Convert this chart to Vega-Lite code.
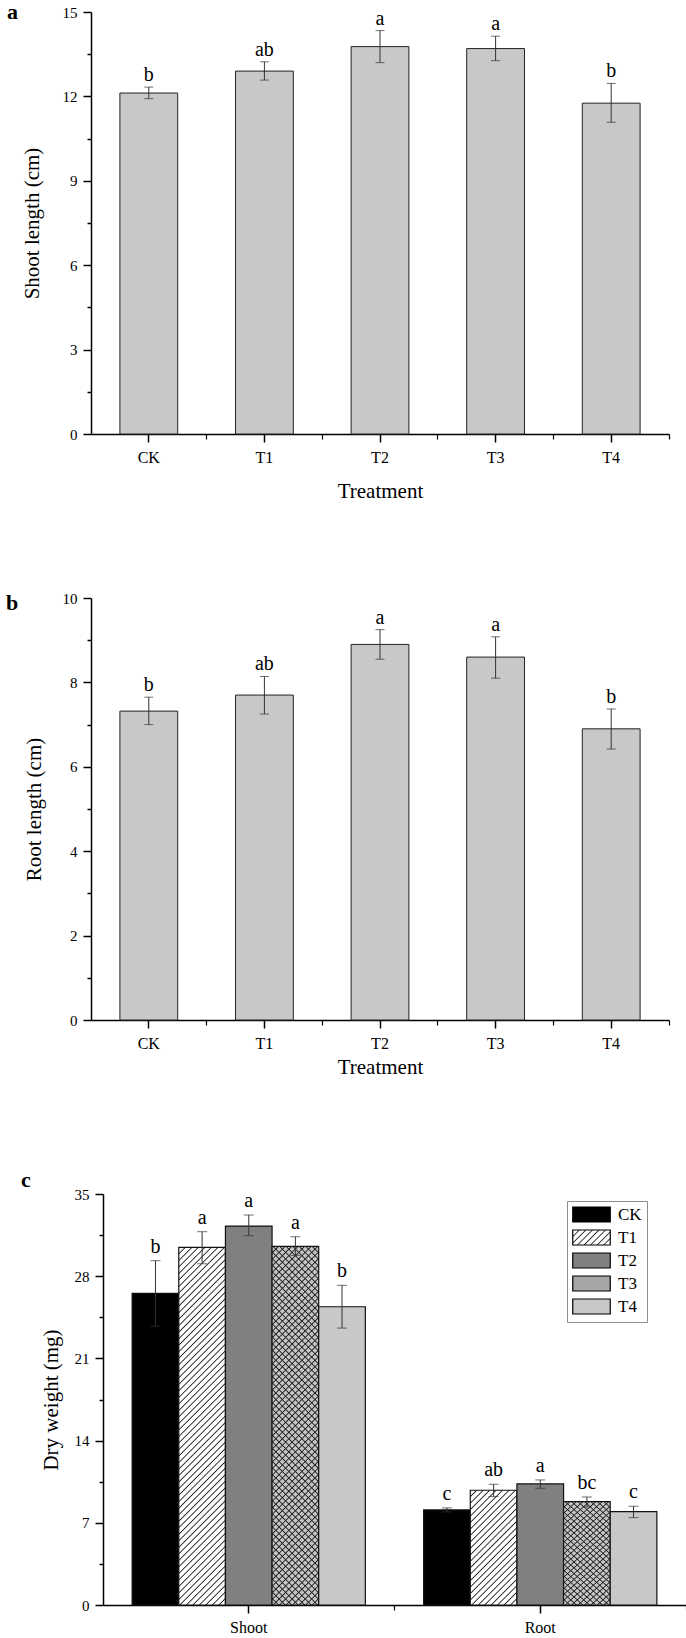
{
  "$schema": "https://vega.github.io/schema/vega-lite/v6.json",
  "background": "white",
  "padding": {"top": 1, "left": 6, "right": 2, "bottom": 4},
  "spacing": 90,
  "align": "none",
  "bounds": "full",
  "resolve": {"legend": {"fill": "independent"}},
  "config": {
    "font": "Liberation Serif",
    "view": {"stroke": null},
    "axis": {
      "grid": false,
      "domainColor": "#000000",
      "domainWidth": 1.5,
      "tickColor": "#000000",
      "tickWidth": 1.5,
      "labelFont": "Liberation Serif",
      "labelColor": "#000000",
      "titleFont": "Liberation Serif",
      "titleFontWeight": "normal",
      "titleColor": "#000000"
    },
    "legend": {"labelFont": "Liberation Serif"},
    "title": {
      "font": "Liberation Serif",
      "fontSize": 22,
      "fontWeight": "bold",
      "anchor": "start",
      "frame": "bounds",
      "baseline": "alphabetic",
      "color": "#000000"
    }
  },
  "vconcat": [
    {
      "width": 578,
      "height": 422,
      "title": {"text": "a", "dx": -14, "offset": -19},
      "data": {"values": [
        {"Treatment": "CK", "value": 12.12, "lo": 11.92, "hi": 12.33, "letter": "b"},
        {"Treatment": "T1", "value": 12.90, "lo": 12.58, "hi": 13.23, "letter": "ab"},
        {"Treatment": "T2", "value": 13.77, "lo": 13.20, "hi": 14.34, "letter": "a"},
        {"Treatment": "T3", "value": 13.70, "lo": 13.27, "hi": 14.14, "letter": "a"},
        {"Treatment": "T4", "value": 11.76, "lo": 11.08, "hi": 12.46, "letter": "b"}
      ]},
      "resolve": {"axis": {"x": "independent"}},
      "layer": [
        {
          "mark": {"type": "bar", "fill": "#c8c8c8", "stroke": "#222222", "strokeWidth": 1},
          "encoding": {
            "x": {"field": "Treatment", "type": "nominal", "sort": null,
              "scale": {"type": "band", "domain": ["CK", "T1", "T2", "T3", "T4"], "paddingInner": 0.5, "paddingOuter": 0.25},
              "axis": {"title": "Treatment", "labelAngle": 0, "bandPosition": 0.5, "tickSize": 8, "labelPadding": 7, "titlePadding": 15, "labelFontSize": 16, "titleFontSize": 21}},
            "y": {"field": "value", "type": "quantitative",
              "scale": {"domain": [0, 15], "nice": false},
              "axis": {"title": "Shoot length (cm)", "values": [0, 1.5, 3, 4.5, 6, 7.5, 9, 10.5, 12, 13.5, 15],
                "labelExpr": "datum.value % 3 === 0 ? datum.label : ''",
                "tickSize": {"condition": {"test": "datum.value % 3 === 0", "value": 8}, "value": 4},
                "labelPadding": 6, "titlePadding": 20, "labelFontSize": 15, "titleFontSize": 21}}
          }
        },
        {
          "mark": {"type": "rule", "color": "#333333", "strokeWidth": 1},
          "encoding": {
            "x": {"field": "Treatment", "type": "nominal", "sort": null,
              "scale": {"type": "band", "domain": ["CK", "T1", "T2", "T3", "T4"], "paddingInner": 0.5, "paddingOuter": 0.25},
              "axis": {"orient": "bottom", "bandPosition": 1.5, "labels": false, "domain": false, "title": null, "tickSize": 5, "tickWidth": 1.2}},
            "y": {"field": "lo", "type": "quantitative"},
            "y2": {"field": "hi"}
          }
        },
        {
          "mark": {"type": "tick", "color": "#333333", "size": 9, "thickness": 1},
          "encoding": {
            "x": {"field": "Treatment", "type": "nominal", "sort": null,
              "scale": {"type": "band", "domain": ["CK", "T1", "T2", "T3", "T4"], "paddingInner": 0.5, "paddingOuter": 0.25}, "axis": null},
            "y": {"field": "lo", "type": "quantitative"}
          }
        },
        {
          "mark": {"type": "tick", "color": "#333333", "size": 9, "thickness": 1},
          "encoding": {
            "x": {"field": "Treatment", "type": "nominal", "sort": null,
              "scale": {"type": "band", "domain": ["CK", "T1", "T2", "T3", "T4"], "paddingInner": 0.5, "paddingOuter": 0.25}, "axis": null},
            "y": {"field": "hi", "type": "quantitative"}
          }
        },
        {
          "mark": {"type": "text", "font": "Liberation Serif", "fontSize": 20, "baseline": "alphabetic", "dy": -6, "color": "#000000"},
          "encoding": {
            "x": {"field": "Treatment", "type": "nominal", "sort": null,
              "scale": {"type": "band", "domain": ["CK", "T1", "T2", "T3", "T4"], "paddingInner": 0.5, "paddingOuter": 0.25}, "axis": null},
            "y": {"field": "hi", "type": "quantitative"},
            "text": {"field": "letter"}
          }
        }
      ]
    },
    {
      "width": 578,
      "height": 422,
      "title": {"text": "b", "dx": -17, "offset": -24},
      "data": {"values": [
        {"Treatment": "CK", "value": 7.32, "lo": 7.00, "hi": 7.65, "letter": "b"},
        {"Treatment": "T1", "value": 7.70, "lo": 7.25, "hi": 8.14, "letter": "ab"},
        {"Treatment": "T2", "value": 8.90, "lo": 8.55, "hi": 9.25, "letter": "a"},
        {"Treatment": "T3", "value": 8.60, "lo": 8.10, "hi": 9.08, "letter": "a"},
        {"Treatment": "T4", "value": 6.90, "lo": 6.42, "hi": 7.37, "letter": "b"}
      ]},
      "resolve": {"axis": {"x": "independent"}},
      "layer": [
        {
          "mark": {"type": "bar", "fill": "#c8c8c8", "stroke": "#222222", "strokeWidth": 1},
          "encoding": {
            "x": {"field": "Treatment", "type": "nominal", "sort": null,
              "scale": {"type": "band", "domain": ["CK", "T1", "T2", "T3", "T4"], "paddingInner": 0.5, "paddingOuter": 0.25},
              "axis": {"title": "Treatment", "labelAngle": 0, "bandPosition": 0.5, "tickSize": 8, "labelPadding": 7, "titlePadding": 5.6, "labelFontSize": 16, "titleFontSize": 21}},
            "y": {"field": "value", "type": "quantitative",
              "scale": {"domain": [0, 10], "nice": false},
              "axis": {"title": "Root length (cm)", "values": [0, 1, 2, 3, 4, 5, 6, 7, 8, 9, 10],
                "labelExpr": "datum.value % 2 === 0 ? datum.label : ''",
                "tickSize": {"condition": {"test": "datum.value % 2 === 0", "value": 8}, "value": 4},
                "labelPadding": 6, "titlePadding": 18, "labelFontSize": 15, "titleFontSize": 21}}
          }
        },
        {
          "mark": {"type": "rule", "color": "#333333", "strokeWidth": 1},
          "encoding": {
            "x": {"field": "Treatment", "type": "nominal", "sort": null,
              "scale": {"type": "band", "domain": ["CK", "T1", "T2", "T3", "T4"], "paddingInner": 0.5, "paddingOuter": 0.25},
              "axis": {"orient": "bottom", "bandPosition": 1.5, "labels": false, "domain": false, "title": null, "tickSize": 5, "tickWidth": 1.2}},
            "y": {"field": "lo", "type": "quantitative"},
            "y2": {"field": "hi"}
          }
        },
        {
          "mark": {"type": "tick", "color": "#333333", "size": 9, "thickness": 1},
          "encoding": {
            "x": {"field": "Treatment", "type": "nominal", "sort": null,
              "scale": {"type": "band", "domain": ["CK", "T1", "T2", "T3", "T4"], "paddingInner": 0.5, "paddingOuter": 0.25}, "axis": null},
            "y": {"field": "lo", "type": "quantitative"}
          }
        },
        {
          "mark": {"type": "tick", "color": "#333333", "size": 9, "thickness": 1},
          "encoding": {
            "x": {"field": "Treatment", "type": "nominal", "sort": null,
              "scale": {"type": "band", "domain": ["CK", "T1", "T2", "T3", "T4"], "paddingInner": 0.5, "paddingOuter": 0.25}, "axis": null},
            "y": {"field": "hi", "type": "quantitative"}
          }
        },
        {
          "mark": {"type": "text", "font": "Liberation Serif", "fontSize": 20, "baseline": "alphabetic", "dy": -6, "color": "#000000"},
          "encoding": {
            "x": {"field": "Treatment", "type": "nominal", "sort": null,
              "scale": {"type": "band", "domain": ["CK", "T1", "T2", "T3", "T4"], "paddingInner": 0.5, "paddingOuter": 0.25}, "axis": null},
            "y": {"field": "hi", "type": "quantitative"},
            "text": {"field": "letter"}
          }
        }
      ]
    },
    {
      "width": 595,
      "height": 411,
      "title": {"text": "c", "dx": -19, "offset": -4.5},
      "data": {"values": [
        {"Part": "Shoot", "Treatment": "CK", "value": 26.53, "lo": 23.74, "hi": 29.32, "letter": "b"},
        {"Part": "Shoot", "Treatment": "T1", "value": 30.45, "lo": 29.06, "hi": 31.79, "letter": "a"},
        {"Part": "Shoot", "Treatment": "T2", "value": 32.27, "lo": 31.45, "hi": 33.21, "letter": "a"},
        {"Part": "Shoot", "Treatment": "T3", "value": 30.54, "lo": 29.77, "hi": 31.36, "letter": "a"},
        {"Part": "Shoot", "Treatment": "T4", "value": 25.40, "lo": 23.58, "hi": 27.22, "letter": "b"},
        {"Part": "Root", "Treatment": "CK", "value": 8.10, "lo": 7.93, "hi": 8.27, "letter": "c"},
        {"Part": "Root", "Treatment": "T1", "value": 9.77, "lo": 9.23, "hi": 10.28, "letter": "ab"},
        {"Part": "Root", "Treatment": "T2", "value": 10.31, "lo": 9.94, "hi": 10.65, "letter": "a"},
        {"Part": "Root", "Treatment": "T3", "value": 8.81, "lo": 8.35, "hi": 9.20, "letter": "bc"},
        {"Part": "Root", "Treatment": "T4", "value": 7.95, "lo": 7.44, "hi": 8.41, "letter": "c"}
      ]},
      "resolve": {"axis": {"x": "independent"}},
      "layer": [
        {
          "mark": {"type": "bar", "stroke": "#111111", "strokeWidth": 1.2},
          "encoding": {
            "x": {"field": "Part", "type": "nominal", "sort": null,
              "scale": {"type": "band", "domain": ["Shoot", "Root"], "paddingInner": 0.2, "paddingOuter": 0.1, "range": [12, 595]},
              "axis": {"title": null, "labelAngle": 0, "bandPosition": 0.5, "tickSize": 8, "labelPadding": 6, "labelFontSize": 16}},
            "xOffset": {"field": "Treatment", "type": "nominal", "sort": null,
              "scale": {"type": "band", "domain": ["CK", "T1", "T2", "T3", "T4"], "paddingInner": 0, "paddingOuter": 0}},
            "y": {"field": "value", "type": "quantitative",
              "scale": {"domain": [0, 35], "nice": false},
              "axis": {"title": "Dry weight (mg)", "offset": -12, "values": [0, 3.5, 7, 10.5, 14, 17.5, 21, 24.5, 28, 31.5, 35],
                "labelExpr": "datum.value % 7 === 0 ? datum.label : ''",
                "tickSize": {"condition": {"test": "datum.value % 7 === 0", "value": 8}, "value": 4},
                "labelPadding": 6, "titlePadding": 13, "labelFontSize": 15, "titleFontSize": 21}},
            "fill": {"condition": [
              {"test": "datum.Treatment === 'CK'", "value": "#000000"},
              {"test": "datum.Treatment === 'T2'", "value": "#808080"},
              {"test": "datum.Treatment === 'T3'", "value": "#c4c4c4"},
              {"test": "datum.Treatment === 'T4'", "value": "#c8c8c8"}
            ], "value": "#ffffff"}
          }
        },
        {
          "mark": {"type": "bar", "strokeWidth": 0},
          "encoding": {
            "x": {"field": "Part", "type": "nominal", "sort": null,
              "scale": {"type": "band", "domain": ["Shoot", "Root"], "paddingInner": 0.2, "paddingOuter": 0.1, "range": [12, 595]}, "axis": null},
            "xOffset": {"field": "Treatment", "type": "nominal", "sort": null,
              "scale": {"type": "band", "domain": ["CK", "T1", "T2", "T3", "T4"], "paddingInner": 0, "paddingOuter": 0}},
            "y": {"datum": 0, "type": "quantitative"},
            "fill": {"field": "Treatment", "type": "nominal", "sort": null,
              "scale": {"domain": ["CK", "T1", "T2", "T3", "T4"], "range": [
                "#000000",
                {"expr": "{gradient: 'linear', x1: 0, y1: 0, x2: 1.2069, y2: 0.48276, stops: [{offset: 0, color: '#ffffff'}, {offset: 0.102, color: '#ffffff'}, {offset: 0.125, color: '#222222'}, {offset: 0.148, color: '#ffffff'}, {offset: 0.227, color: '#ffffff'}, {offset: 0.25, color: '#222222'}, {offset: 0.273, color: '#ffffff'}, {offset: 0.352, color: '#ffffff'}, {offset: 0.375, color: '#222222'}, {offset: 0.398, color: '#ffffff'}, {offset: 0.477, color: '#ffffff'}, {offset: 0.5, color: '#222222'}, {offset: 0.523, color: '#ffffff'}, {offset: 0.602, color: '#ffffff'}, {offset: 0.625, color: '#222222'}, {offset: 0.648, color: '#ffffff'}, {offset: 0.727, color: '#ffffff'}, {offset: 0.75, color: '#222222'}, {offset: 0.773, color: '#ffffff'}, {offset: 0.852, color: '#ffffff'}, {offset: 0.875, color: '#222222'}, {offset: 0.898, color: '#ffffff'}, {offset: 1, color: '#ffffff'}]}"},
                "#808080",
                "#a6a6a6",
                "#c8c8c8"
              ]},
              "legend": {"title": null, "orient": "none", "legendX": 476, "legendY": 7,
                "symbolType": "M-2.5,-1H2.5V1H-2.5Z", "symbolSize": 225, "symbolOffset": 11,
                "symbolStrokeColor": "#000000", "symbolStrokeWidth": 1.2, "symbolOpacity": 1,
                "labelFont": "Liberation Serif", "labelFontSize": 17, "labelColor": "#000000", "labelOffset": 18,
                "strokeColor": "#8c8c8c", "fillColor": "#ffffff", "padding": 5, "rowPadding": 2,
                "encode": {"symbols": {"update": {"stroke": {"value": "#000000"}, "strokeWidth": {"value": 1.2}, "opacity": {"value": 1}}}}}
            }
          }
        },
        {
          "transform": [{"filter": "datum.Part === 'Shoot' && (datum.Treatment === 'T1' || datum.Treatment === 'T3')"}],
          "mark": {"type": "bar", "strokeWidth": 0, "fill": {"gradient": "linear", "x1": 0, "y1": 0, "x2": 0.14497, "y2": 1.11152, "stops": [
            {"offset":0.0131,"color":"transparent"},{"offset":0.0161,"color":"#222222"},{"offset":0.0191,"color":"transparent"},
            {"offset":0.0293,"color":"transparent"},{"offset":0.0323,"color":"#222222"},{"offset":0.0353,"color":"transparent"},
            {"offset":0.0454,"color":"transparent"},{"offset":0.0484,"color":"#222222"},{"offset":0.0514,"color":"transparent"},
            {"offset":0.0615,"color":"transparent"},{"offset":0.0645,"color":"#222222"},{"offset":0.0675,"color":"transparent"},
            {"offset":0.0776,"color":"transparent"},{"offset":0.0806,"color":"#222222"},{"offset":0.0836,"color":"transparent"},
            {"offset":0.0938,"color":"transparent"},{"offset":0.0968,"color":"#222222"},{"offset":0.0998,"color":"transparent"},
            {"offset":0.1099,"color":"transparent"},{"offset":0.1129,"color":"#222222"},{"offset":0.1159,"color":"transparent"},
            {"offset":0.1260,"color":"transparent"},{"offset":0.1290,"color":"#222222"},{"offset":0.1320,"color":"transparent"},
            {"offset":0.1422,"color":"transparent"},{"offset":0.1452,"color":"#222222"},{"offset":0.1482,"color":"transparent"},
            {"offset":0.1583,"color":"transparent"},{"offset":0.1613,"color":"#222222"},{"offset":0.1643,"color":"transparent"},
            {"offset":0.1744,"color":"transparent"},{"offset":0.1774,"color":"#222222"},{"offset":0.1804,"color":"transparent"},
            {"offset":0.1905,"color":"transparent"},{"offset":0.1935,"color":"#222222"},{"offset":0.1965,"color":"transparent"},
            {"offset":0.2067,"color":"transparent"},{"offset":0.2097,"color":"#222222"},{"offset":0.2127,"color":"transparent"},
            {"offset":0.2228,"color":"transparent"},{"offset":0.2258,"color":"#222222"},{"offset":0.2288,"color":"transparent"},
            {"offset":0.2389,"color":"transparent"},{"offset":0.2419,"color":"#222222"},{"offset":0.2449,"color":"transparent"},
            {"offset":0.2551,"color":"transparent"},{"offset":0.2581,"color":"#222222"},{"offset":0.2611,"color":"transparent"},
            {"offset":0.2712,"color":"transparent"},{"offset":0.2742,"color":"#222222"},{"offset":0.2772,"color":"transparent"},
            {"offset":0.2873,"color":"transparent"},{"offset":0.2903,"color":"#222222"},{"offset":0.2933,"color":"transparent"},
            {"offset":0.3035,"color":"transparent"},{"offset":0.3065,"color":"#222222"},{"offset":0.3095,"color":"transparent"},
            {"offset":0.3196,"color":"transparent"},{"offset":0.3226,"color":"#222222"},{"offset":0.3256,"color":"transparent"},
            {"offset":0.3357,"color":"transparent"},{"offset":0.3387,"color":"#222222"},{"offset":0.3417,"color":"transparent"},
            {"offset":0.3518,"color":"transparent"},{"offset":0.3548,"color":"#222222"},{"offset":0.3578,"color":"transparent"},
            {"offset":0.3680,"color":"transparent"},{"offset":0.3710,"color":"#222222"},{"offset":0.3740,"color":"transparent"},
            {"offset":0.3841,"color":"transparent"},{"offset":0.3871,"color":"#222222"},{"offset":0.3901,"color":"transparent"},
            {"offset":0.4002,"color":"transparent"},{"offset":0.4032,"color":"#222222"},{"offset":0.4062,"color":"transparent"},
            {"offset":0.4164,"color":"transparent"},{"offset":0.4194,"color":"#222222"},{"offset":0.4224,"color":"transparent"},
            {"offset":0.4325,"color":"transparent"},{"offset":0.4355,"color":"#222222"},{"offset":0.4385,"color":"transparent"},
            {"offset":0.4486,"color":"transparent"},{"offset":0.4516,"color":"#222222"},{"offset":0.4546,"color":"transparent"},
            {"offset":0.4647,"color":"transparent"},{"offset":0.4677,"color":"#222222"},{"offset":0.4707,"color":"transparent"},
            {"offset":0.4809,"color":"transparent"},{"offset":0.4839,"color":"#222222"},{"offset":0.4869,"color":"transparent"},
            {"offset":0.4970,"color":"transparent"},{"offset":0.5000,"color":"#222222"},{"offset":0.5030,"color":"transparent"},
            {"offset":0.5131,"color":"transparent"},{"offset":0.5161,"color":"#222222"},{"offset":0.5191,"color":"transparent"},
            {"offset":0.5293,"color":"transparent"},{"offset":0.5323,"color":"#222222"},{"offset":0.5353,"color":"transparent"},
            {"offset":0.5454,"color":"transparent"},{"offset":0.5484,"color":"#222222"},{"offset":0.5514,"color":"transparent"},
            {"offset":0.5615,"color":"transparent"},{"offset":0.5645,"color":"#222222"},{"offset":0.5675,"color":"transparent"},
            {"offset":0.5776,"color":"transparent"},{"offset":0.5806,"color":"#222222"},{"offset":0.5836,"color":"transparent"},
            {"offset":0.5938,"color":"transparent"},{"offset":0.5968,"color":"#222222"},{"offset":0.5998,"color":"transparent"},
            {"offset":0.6099,"color":"transparent"},{"offset":0.6129,"color":"#222222"},{"offset":0.6159,"color":"transparent"},
            {"offset":0.6260,"color":"transparent"},{"offset":0.6290,"color":"#222222"},{"offset":0.6320,"color":"transparent"},
            {"offset":0.6422,"color":"transparent"},{"offset":0.6452,"color":"#222222"},{"offset":0.6482,"color":"transparent"},
            {"offset":0.6583,"color":"transparent"},{"offset":0.6613,"color":"#222222"},{"offset":0.6643,"color":"transparent"},
            {"offset":0.6744,"color":"transparent"},{"offset":0.6774,"color":"#222222"},{"offset":0.6804,"color":"transparent"},
            {"offset":0.6905,"color":"transparent"},{"offset":0.6935,"color":"#222222"},{"offset":0.6965,"color":"transparent"},
            {"offset":0.7067,"color":"transparent"},{"offset":0.7097,"color":"#222222"},{"offset":0.7127,"color":"transparent"},
            {"offset":0.7228,"color":"transparent"},{"offset":0.7258,"color":"#222222"},{"offset":0.7288,"color":"transparent"},
            {"offset":0.7389,"color":"transparent"},{"offset":0.7419,"color":"#222222"},{"offset":0.7449,"color":"transparent"},
            {"offset":0.7551,"color":"transparent"},{"offset":0.7581,"color":"#222222"},{"offset":0.7611,"color":"transparent"},
            {"offset":0.7712,"color":"transparent"},{"offset":0.7742,"color":"#222222"},{"offset":0.7772,"color":"transparent"},
            {"offset":0.7873,"color":"transparent"},{"offset":0.7903,"color":"#222222"},{"offset":0.7933,"color":"transparent"},
            {"offset":0.8035,"color":"transparent"},{"offset":0.8065,"color":"#222222"},{"offset":0.8095,"color":"transparent"},
            {"offset":0.8196,"color":"transparent"},{"offset":0.8226,"color":"#222222"},{"offset":0.8256,"color":"transparent"},
            {"offset":0.8357,"color":"transparent"},{"offset":0.8387,"color":"#222222"},{"offset":0.8417,"color":"transparent"},
            {"offset":0.8518,"color":"transparent"},{"offset":0.8548,"color":"#222222"},{"offset":0.8578,"color":"transparent"},
            {"offset":0.8680,"color":"transparent"},{"offset":0.8710,"color":"#222222"},{"offset":0.8740,"color":"transparent"},
            {"offset":0.8841,"color":"transparent"},{"offset":0.8871,"color":"#222222"},{"offset":0.8901,"color":"transparent"},
            {"offset":0.9002,"color":"transparent"},{"offset":0.9032,"color":"#222222"},{"offset":0.9062,"color":"transparent"},
            {"offset":0.9164,"color":"transparent"},{"offset":0.9194,"color":"#222222"},{"offset":0.9224,"color":"transparent"},
            {"offset":0.9325,"color":"transparent"},{"offset":0.9355,"color":"#222222"},{"offset":0.9385,"color":"transparent"},
            {"offset":0.9486,"color":"transparent"},{"offset":0.9516,"color":"#222222"},{"offset":0.9546,"color":"transparent"},
            {"offset":0.9647,"color":"transparent"},{"offset":0.9677,"color":"#222222"},{"offset":0.9707,"color":"transparent"},
            {"offset":0.9809,"color":"transparent"},{"offset":0.9839,"color":"#222222"},{"offset":0.9869,"color":"transparent"}
          ]}},
          "encoding": {
            "x": {"field": "Part", "type": "nominal", "sort": null,
              "scale": {"type": "band", "domain": ["Shoot", "Root"], "paddingInner": 0.2, "paddingOuter": 0.1, "range": [12, 595]}, "axis": null},
            "xOffset": {"field": "Treatment", "type": "nominal", "sort": null,
              "scale": {"type": "band", "domain": ["CK", "T1", "T2", "T3", "T4"], "paddingInner": 0, "paddingOuter": 0}},
            "y": {"field": "value", "type": "quantitative"}
          }
        },
        {
          "transform": [{"filter": "datum.Part === 'Shoot' && datum.Treatment === 'T3'"}],
          "mark": {"type": "bar", "strokeWidth": 0, "fill": {"gradient": "linear", "x1": 0, "y1": 1, "x2": 0.14497, "y2": -0.11152, "stops": [
            {"offset":0.0131,"color":"transparent"},{"offset":0.0161,"color":"#222222"},{"offset":0.0191,"color":"transparent"},
            {"offset":0.0293,"color":"transparent"},{"offset":0.0323,"color":"#222222"},{"offset":0.0353,"color":"transparent"},
            {"offset":0.0454,"color":"transparent"},{"offset":0.0484,"color":"#222222"},{"offset":0.0514,"color":"transparent"},
            {"offset":0.0615,"color":"transparent"},{"offset":0.0645,"color":"#222222"},{"offset":0.0675,"color":"transparent"},
            {"offset":0.0776,"color":"transparent"},{"offset":0.0806,"color":"#222222"},{"offset":0.0836,"color":"transparent"},
            {"offset":0.0938,"color":"transparent"},{"offset":0.0968,"color":"#222222"},{"offset":0.0998,"color":"transparent"},
            {"offset":0.1099,"color":"transparent"},{"offset":0.1129,"color":"#222222"},{"offset":0.1159,"color":"transparent"},
            {"offset":0.1260,"color":"transparent"},{"offset":0.1290,"color":"#222222"},{"offset":0.1320,"color":"transparent"},
            {"offset":0.1422,"color":"transparent"},{"offset":0.1452,"color":"#222222"},{"offset":0.1482,"color":"transparent"},
            {"offset":0.1583,"color":"transparent"},{"offset":0.1613,"color":"#222222"},{"offset":0.1643,"color":"transparent"},
            {"offset":0.1744,"color":"transparent"},{"offset":0.1774,"color":"#222222"},{"offset":0.1804,"color":"transparent"},
            {"offset":0.1905,"color":"transparent"},{"offset":0.1935,"color":"#222222"},{"offset":0.1965,"color":"transparent"},
            {"offset":0.2067,"color":"transparent"},{"offset":0.2097,"color":"#222222"},{"offset":0.2127,"color":"transparent"},
            {"offset":0.2228,"color":"transparent"},{"offset":0.2258,"color":"#222222"},{"offset":0.2288,"color":"transparent"},
            {"offset":0.2389,"color":"transparent"},{"offset":0.2419,"color":"#222222"},{"offset":0.2449,"color":"transparent"},
            {"offset":0.2551,"color":"transparent"},{"offset":0.2581,"color":"#222222"},{"offset":0.2611,"color":"transparent"},
            {"offset":0.2712,"color":"transparent"},{"offset":0.2742,"color":"#222222"},{"offset":0.2772,"color":"transparent"},
            {"offset":0.2873,"color":"transparent"},{"offset":0.2903,"color":"#222222"},{"offset":0.2933,"color":"transparent"},
            {"offset":0.3035,"color":"transparent"},{"offset":0.3065,"color":"#222222"},{"offset":0.3095,"color":"transparent"},
            {"offset":0.3196,"color":"transparent"},{"offset":0.3226,"color":"#222222"},{"offset":0.3256,"color":"transparent"},
            {"offset":0.3357,"color":"transparent"},{"offset":0.3387,"color":"#222222"},{"offset":0.3417,"color":"transparent"},
            {"offset":0.3518,"color":"transparent"},{"offset":0.3548,"color":"#222222"},{"offset":0.3578,"color":"transparent"},
            {"offset":0.3680,"color":"transparent"},{"offset":0.3710,"color":"#222222"},{"offset":0.3740,"color":"transparent"},
            {"offset":0.3841,"color":"transparent"},{"offset":0.3871,"color":"#222222"},{"offset":0.3901,"color":"transparent"},
            {"offset":0.4002,"color":"transparent"},{"offset":0.4032,"color":"#222222"},{"offset":0.4062,"color":"transparent"},
            {"offset":0.4164,"color":"transparent"},{"offset":0.4194,"color":"#222222"},{"offset":0.4224,"color":"transparent"},
            {"offset":0.4325,"color":"transparent"},{"offset":0.4355,"color":"#222222"},{"offset":0.4385,"color":"transparent"},
            {"offset":0.4486,"color":"transparent"},{"offset":0.4516,"color":"#222222"},{"offset":0.4546,"color":"transparent"},
            {"offset":0.4647,"color":"transparent"},{"offset":0.4677,"color":"#222222"},{"offset":0.4707,"color":"transparent"},
            {"offset":0.4809,"color":"transparent"},{"offset":0.4839,"color":"#222222"},{"offset":0.4869,"color":"transparent"},
            {"offset":0.4970,"color":"transparent"},{"offset":0.5000,"color":"#222222"},{"offset":0.5030,"color":"transparent"},
            {"offset":0.5131,"color":"transparent"},{"offset":0.5161,"color":"#222222"},{"offset":0.5191,"color":"transparent"},
            {"offset":0.5293,"color":"transparent"},{"offset":0.5323,"color":"#222222"},{"offset":0.5353,"color":"transparent"},
            {"offset":0.5454,"color":"transparent"},{"offset":0.5484,"color":"#222222"},{"offset":0.5514,"color":"transparent"},
            {"offset":0.5615,"color":"transparent"},{"offset":0.5645,"color":"#222222"},{"offset":0.5675,"color":"transparent"},
            {"offset":0.5776,"color":"transparent"},{"offset":0.5806,"color":"#222222"},{"offset":0.5836,"color":"transparent"},
            {"offset":0.5938,"color":"transparent"},{"offset":0.5968,"color":"#222222"},{"offset":0.5998,"color":"transparent"},
            {"offset":0.6099,"color":"transparent"},{"offset":0.6129,"color":"#222222"},{"offset":0.6159,"color":"transparent"},
            {"offset":0.6260,"color":"transparent"},{"offset":0.6290,"color":"#222222"},{"offset":0.6320,"color":"transparent"},
            {"offset":0.6422,"color":"transparent"},{"offset":0.6452,"color":"#222222"},{"offset":0.6482,"color":"transparent"},
            {"offset":0.6583,"color":"transparent"},{"offset":0.6613,"color":"#222222"},{"offset":0.6643,"color":"transparent"},
            {"offset":0.6744,"color":"transparent"},{"offset":0.6774,"color":"#222222"},{"offset":0.6804,"color":"transparent"},
            {"offset":0.6905,"color":"transparent"},{"offset":0.6935,"color":"#222222"},{"offset":0.6965,"color":"transparent"},
            {"offset":0.7067,"color":"transparent"},{"offset":0.7097,"color":"#222222"},{"offset":0.7127,"color":"transparent"},
            {"offset":0.7228,"color":"transparent"},{"offset":0.7258,"color":"#222222"},{"offset":0.7288,"color":"transparent"},
            {"offset":0.7389,"color":"transparent"},{"offset":0.7419,"color":"#222222"},{"offset":0.7449,"color":"transparent"},
            {"offset":0.7551,"color":"transparent"},{"offset":0.7581,"color":"#222222"},{"offset":0.7611,"color":"transparent"},
            {"offset":0.7712,"color":"transparent"},{"offset":0.7742,"color":"#222222"},{"offset":0.7772,"color":"transparent"},
            {"offset":0.7873,"color":"transparent"},{"offset":0.7903,"color":"#222222"},{"offset":0.7933,"color":"transparent"},
            {"offset":0.8035,"color":"transparent"},{"offset":0.8065,"color":"#222222"},{"offset":0.8095,"color":"transparent"},
            {"offset":0.8196,"color":"transparent"},{"offset":0.8226,"color":"#222222"},{"offset":0.8256,"color":"transparent"},
            {"offset":0.8357,"color":"transparent"},{"offset":0.8387,"color":"#222222"},{"offset":0.8417,"color":"transparent"},
            {"offset":0.8518,"color":"transparent"},{"offset":0.8548,"color":"#222222"},{"offset":0.8578,"color":"transparent"},
            {"offset":0.8680,"color":"transparent"},{"offset":0.8710,"color":"#222222"},{"offset":0.8740,"color":"transparent"},
            {"offset":0.8841,"color":"transparent"},{"offset":0.8871,"color":"#222222"},{"offset":0.8901,"color":"transparent"},
            {"offset":0.9002,"color":"transparent"},{"offset":0.9032,"color":"#222222"},{"offset":0.9062,"color":"transparent"},
            {"offset":0.9164,"color":"transparent"},{"offset":0.9194,"color":"#222222"},{"offset":0.9224,"color":"transparent"},
            {"offset":0.9325,"color":"transparent"},{"offset":0.9355,"color":"#222222"},{"offset":0.9385,"color":"transparent"},
            {"offset":0.9486,"color":"transparent"},{"offset":0.9516,"color":"#222222"},{"offset":0.9546,"color":"transparent"},
            {"offset":0.9647,"color":"transparent"},{"offset":0.9677,"color":"#222222"},{"offset":0.9707,"color":"transparent"},
            {"offset":0.9809,"color":"transparent"},{"offset":0.9839,"color":"#222222"},{"offset":0.9869,"color":"transparent"}
          ]}},
          "encoding": {
            "x": {"field": "Part", "type": "nominal", "sort": null,
              "scale": {"type": "band", "domain": ["Shoot", "Root"], "paddingInner": 0.2, "paddingOuter": 0.1, "range": [12, 595]}, "axis": null},
            "xOffset": {"field": "Treatment", "type": "nominal", "sort": null,
              "scale": {"type": "band", "domain": ["CK", "T1", "T2", "T3", "T4"], "paddingInner": 0, "paddingOuter": 0}},
            "y": {"field": "value", "type": "quantitative"}
          }
        },
        {
          "transform": [{"filter": "datum.Part === 'Root' && (datum.Treatment === 'T1' || datum.Treatment === 'T3')"}],
          "mark": {"type": "bar", "strokeWidth": 0, "fill": {"gradient": "linear", "x1": 0, "y1": 0, "x2": 0.49081, "y2": 1.20704, "stops": [
            {"offset":0.0325,"color":"transparent"},{"offset":0.04,"color":"#222222"},{"offset":0.0475,"color":"transparent"},
            {"offset":0.0725,"color":"transparent"},{"offset":0.08,"color":"#222222"},{"offset":0.0875,"color":"transparent"},
            {"offset":0.1125,"color":"transparent"},{"offset":0.12,"color":"#222222"},{"offset":0.1275,"color":"transparent"},
            {"offset":0.1525,"color":"transparent"},{"offset":0.16,"color":"#222222"},{"offset":0.1675,"color":"transparent"},
            {"offset":0.1925,"color":"transparent"},{"offset":0.2,"color":"#222222"},{"offset":0.2075,"color":"transparent"},
            {"offset":0.2325,"color":"transparent"},{"offset":0.24,"color":"#222222"},{"offset":0.2475,"color":"transparent"},
            {"offset":0.2725,"color":"transparent"},{"offset":0.28,"color":"#222222"},{"offset":0.2875,"color":"transparent"},
            {"offset":0.3125,"color":"transparent"},{"offset":0.32,"color":"#222222"},{"offset":0.3275,"color":"transparent"},
            {"offset":0.3525,"color":"transparent"},{"offset":0.36,"color":"#222222"},{"offset":0.3675,"color":"transparent"},
            {"offset":0.3925,"color":"transparent"},{"offset":0.4,"color":"#222222"},{"offset":0.4075,"color":"transparent"},
            {"offset":0.4325,"color":"transparent"},{"offset":0.44,"color":"#222222"},{"offset":0.4475,"color":"transparent"},
            {"offset":0.4725,"color":"transparent"},{"offset":0.48,"color":"#222222"},{"offset":0.4875,"color":"transparent"},
            {"offset":0.5125,"color":"transparent"},{"offset":0.52,"color":"#222222"},{"offset":0.5275,"color":"transparent"},
            {"offset":0.5525,"color":"transparent"},{"offset":0.56,"color":"#222222"},{"offset":0.5675,"color":"transparent"},
            {"offset":0.5925,"color":"transparent"},{"offset":0.6,"color":"#222222"},{"offset":0.6075,"color":"transparent"},
            {"offset":0.6325,"color":"transparent"},{"offset":0.64,"color":"#222222"},{"offset":0.6475,"color":"transparent"},
            {"offset":0.6725,"color":"transparent"},{"offset":0.68,"color":"#222222"},{"offset":0.6875,"color":"transparent"},
            {"offset":0.7125,"color":"transparent"},{"offset":0.72,"color":"#222222"},{"offset":0.7275,"color":"transparent"},
            {"offset":0.7525,"color":"transparent"},{"offset":0.76,"color":"#222222"},{"offset":0.7675,"color":"transparent"},
            {"offset":0.7925,"color":"transparent"},{"offset":0.8,"color":"#222222"},{"offset":0.8075,"color":"transparent"},
            {"offset":0.8325,"color":"transparent"},{"offset":0.84,"color":"#222222"},{"offset":0.8475,"color":"transparent"},
            {"offset":0.8725,"color":"transparent"},{"offset":0.88,"color":"#222222"},{"offset":0.8875,"color":"transparent"},
            {"offset":0.9125,"color":"transparent"},{"offset":0.92,"color":"#222222"},{"offset":0.9275,"color":"transparent"},
            {"offset":0.9525,"color":"transparent"},{"offset":0.96,"color":"#222222"},{"offset":0.9675,"color":"transparent"}
          ]}},
          "encoding": {
            "x": {"field": "Part", "type": "nominal", "sort": null,
              "scale": {"type": "band", "domain": ["Shoot", "Root"], "paddingInner": 0.2, "paddingOuter": 0.1, "range": [12, 595]}, "axis": null},
            "xOffset": {"field": "Treatment", "type": "nominal", "sort": null,
              "scale": {"type": "band", "domain": ["CK", "T1", "T2", "T3", "T4"], "paddingInner": 0, "paddingOuter": 0}},
            "y": {"field": "value", "type": "quantitative"}
          }
        },
        {
          "transform": [{"filter": "datum.Part === 'Root' && datum.Treatment === 'T3'"}],
          "mark": {"type": "bar", "strokeWidth": 0, "fill": {"gradient": "linear", "x1": 0, "y1": 1, "x2": 0.49081, "y2": -0.20704, "stops": [
            {"offset":0.0325,"color":"transparent"},{"offset":0.04,"color":"#222222"},{"offset":0.0475,"color":"transparent"},
            {"offset":0.0725,"color":"transparent"},{"offset":0.08,"color":"#222222"},{"offset":0.0875,"color":"transparent"},
            {"offset":0.1125,"color":"transparent"},{"offset":0.12,"color":"#222222"},{"offset":0.1275,"color":"transparent"},
            {"offset":0.1525,"color":"transparent"},{"offset":0.16,"color":"#222222"},{"offset":0.1675,"color":"transparent"},
            {"offset":0.1925,"color":"transparent"},{"offset":0.2,"color":"#222222"},{"offset":0.2075,"color":"transparent"},
            {"offset":0.2325,"color":"transparent"},{"offset":0.24,"color":"#222222"},{"offset":0.2475,"color":"transparent"},
            {"offset":0.2725,"color":"transparent"},{"offset":0.28,"color":"#222222"},{"offset":0.2875,"color":"transparent"},
            {"offset":0.3125,"color":"transparent"},{"offset":0.32,"color":"#222222"},{"offset":0.3275,"color":"transparent"},
            {"offset":0.3525,"color":"transparent"},{"offset":0.36,"color":"#222222"},{"offset":0.3675,"color":"transparent"},
            {"offset":0.3925,"color":"transparent"},{"offset":0.4,"color":"#222222"},{"offset":0.4075,"color":"transparent"},
            {"offset":0.4325,"color":"transparent"},{"offset":0.44,"color":"#222222"},{"offset":0.4475,"color":"transparent"},
            {"offset":0.4725,"color":"transparent"},{"offset":0.48,"color":"#222222"},{"offset":0.4875,"color":"transparent"},
            {"offset":0.5125,"color":"transparent"},{"offset":0.52,"color":"#222222"},{"offset":0.5275,"color":"transparent"},
            {"offset":0.5525,"color":"transparent"},{"offset":0.56,"color":"#222222"},{"offset":0.5675,"color":"transparent"},
            {"offset":0.5925,"color":"transparent"},{"offset":0.6,"color":"#222222"},{"offset":0.6075,"color":"transparent"},
            {"offset":0.6325,"color":"transparent"},{"offset":0.64,"color":"#222222"},{"offset":0.6475,"color":"transparent"},
            {"offset":0.6725,"color":"transparent"},{"offset":0.68,"color":"#222222"},{"offset":0.6875,"color":"transparent"},
            {"offset":0.7125,"color":"transparent"},{"offset":0.72,"color":"#222222"},{"offset":0.7275,"color":"transparent"},
            {"offset":0.7525,"color":"transparent"},{"offset":0.76,"color":"#222222"},{"offset":0.7675,"color":"transparent"},
            {"offset":0.7925,"color":"transparent"},{"offset":0.8,"color":"#222222"},{"offset":0.8075,"color":"transparent"},
            {"offset":0.8325,"color":"transparent"},{"offset":0.84,"color":"#222222"},{"offset":0.8475,"color":"transparent"},
            {"offset":0.8725,"color":"transparent"},{"offset":0.88,"color":"#222222"},{"offset":0.8875,"color":"transparent"},
            {"offset":0.9125,"color":"transparent"},{"offset":0.92,"color":"#222222"},{"offset":0.9275,"color":"transparent"},
            {"offset":0.9525,"color":"transparent"},{"offset":0.96,"color":"#222222"},{"offset":0.9675,"color":"transparent"}
          ]}},
          "encoding": {
            "x": {"field": "Part", "type": "nominal", "sort": null,
              "scale": {"type": "band", "domain": ["Shoot", "Root"], "paddingInner": 0.2, "paddingOuter": 0.1, "range": [12, 595]}, "axis": null},
            "xOffset": {"field": "Treatment", "type": "nominal", "sort": null,
              "scale": {"type": "band", "domain": ["CK", "T1", "T2", "T3", "T4"], "paddingInner": 0, "paddingOuter": 0}},
            "y": {"field": "value", "type": "quantitative"}
          }
        },
        {
          "mark": {"type": "rule", "color": "#333333", "strokeWidth": 1},
          "encoding": {
            "x": {"field": "Part", "type": "nominal", "sort": null,
              "scale": {"type": "band", "domain": ["Shoot", "Root"], "paddingInner": 0.2, "paddingOuter": 0.1, "range": [12, 595]},
              "axis": {"orient": "bottom", "bandPosition": 1.125, "labels": false, "domain": false, "title": null, "tickSize": 5, "tickWidth": 1.2}},
            "xOffset": {"field": "Treatment", "type": "nominal", "sort": null,
              "scale": {"type": "band", "domain": ["CK", "T1", "T2", "T3", "T4"], "paddingInner": 0, "paddingOuter": 0}},
            "y": {"field": "lo", "type": "quantitative"},
            "y2": {"field": "hi"}
          }
        },
        {
          "mark": {"type": "tick", "color": "#333333", "size": 10, "thickness": 1},
          "encoding": {
            "x": {"field": "Part", "type": "nominal", "sort": null,
              "scale": {"type": "band", "domain": ["Shoot", "Root"], "paddingInner": 0.2, "paddingOuter": 0.1, "range": [12, 595]}, "axis": null},
            "xOffset": {"field": "Treatment", "type": "nominal", "sort": null,
              "scale": {"type": "band", "domain": ["CK", "T1", "T2", "T3", "T4"], "paddingInner": 0, "paddingOuter": 0}},
            "y": {"field": "lo", "type": "quantitative"}
          }
        },
        {
          "mark": {"type": "tick", "color": "#333333", "size": 10, "thickness": 1},
          "encoding": {
            "x": {"field": "Part", "type": "nominal", "sort": null,
              "scale": {"type": "band", "domain": ["Shoot", "Root"], "paddingInner": 0.2, "paddingOuter": 0.1, "range": [12, 595]}, "axis": null},
            "xOffset": {"field": "Treatment", "type": "nominal", "sort": null,
              "scale": {"type": "band", "domain": ["CK", "T1", "T2", "T3", "T4"], "paddingInner": 0, "paddingOuter": 0}},
            "y": {"field": "hi", "type": "quantitative"}
          }
        },
        {
          "mark": {"type": "text", "font": "Liberation Serif", "fontSize": 20, "baseline": "alphabetic", "dy": -8, "color": "#000000"},
          "encoding": {
            "x": {"field": "Part", "type": "nominal", "sort": null,
              "scale": {"type": "band", "domain": ["Shoot", "Root"], "paddingInner": 0.2, "paddingOuter": 0.1, "range": [12, 595]}, "axis": null},
            "xOffset": {"field": "Treatment", "type": "nominal", "sort": null,
              "scale": {"type": "band", "domain": ["CK", "T1", "T2", "T3", "T4"], "paddingInner": 0, "paddingOuter": 0}},
            "y": {"field": "hi", "type": "quantitative"},
            "text": {"field": "letter"}
          }
        }
      ]
    }
  ]
}
